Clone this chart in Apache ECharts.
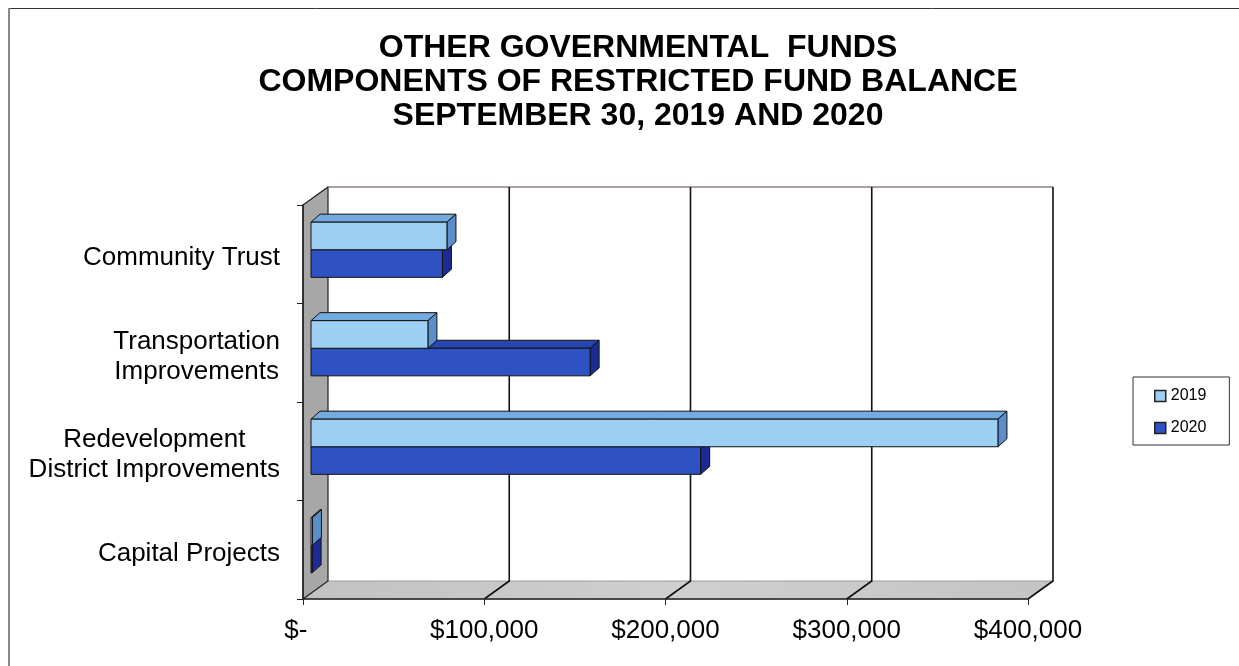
<!DOCTYPE html>
<html>
<head>
<meta charset="utf-8">
<script src="https://cdn.jsdelivr.net/npm/echarts@6/dist/echarts.min.js"></script>
<style>
  html, body { margin: 0; padding: 0; background: #fff; }
  #chart { width: 1239px; height: 666px; }
</style>
</head>
<body>
<div id="chart"></div>
<script>
// Chart text and values
const titleLines = ['OTHER GOVERNMENTAL  FUNDS', 'COMPONENTS OF RESTRICTED FUND BALANCE', 'SEPTEMBER 30, 2019 AND 2020'];
const categories = ['Community Trust', 'Transportation\nImprovements', 'Redevelopment\nDistrict Improvements', 'Capital Projects'];
const seriesNames = ['2019', '2020'];
const values2019 = [75000, 64500, 379000, 800];
const values2020 = [72500, 154000, 215000, 600];
const valueTicks = [0, 100000, 200000, 300000, 400000];

const FONT = '"Liberation Sans", Arial, sans-serif';

// 3-D look: depth of walls/floor, and placement of the bar blocks inside that depth
const DEPTH = [25, -18];
const BAR_FACE = [8, -4.5];
const BAR_DEPTH = [9, -8];
const BAR_FRACTION = 0.28;

const palette = {
  '2019': { front: '#9dcff3', top: '#74abdf', side: '#5b8fcb' },
  '2020': { front: '#2f52c2', top: '#2846b0', side: '#1c2b94' }
};

function money(v) {
  return v === 0 ? '$-  ' : '$' + v.toLocaleString('en-US');
}

// Walls, floor and gridlines of the 3-D box, positioned from the axes
function renderFrame(params, api) {
  const cs = params.coordSys;
  const xl = cs.x, xr = cs.x + cs.width, yt = cs.y, yb = cs.y + cs.height;
  const dx = DEPTH[0], dy = DEPTH[1];
  const children = [
    { type: 'rect', shape: { x: xl + dx, y: yt + dy, width: cs.width, height: cs.height },
      style: { fill: '#ffffff' } },
    { type: 'polygon', shape: { points: [[xl, yb], [xr, yb], [xr + dx, yb + dy], [xl + dx, yb + dy]] },
      style: {
        fill: new echarts.graphic.LinearGradient(0, 0, 1, 0, [
          { offset: 0, color: '#c2c2c2' }, { offset: 0.5, color: '#cfcfcf' }, { offset: 1, color: '#c4c4c4' }
        ]),
        stroke: '#9c9c9c', lineWidth: 1
      } },
    { type: 'polygon', shape: { points: [[xl, yt], [xl + dx, yt + dy], [xl + dx, yb + dy], [xl, yb]] },
      style: { fill: '#a7a7a7', stroke: '#222', lineWidth: 1.2 } },
    { type: 'polyline', shape: { points: [[xl + dx, yt + dy], [xr + dx, yt + dy]] },
      style: { stroke: '#8d8282', lineWidth: 1.5, fill: null } }
  ];
  valueTicks.forEach(function (v) {
    if (v === 0) return;
    const gx = api.coord([v, 0])[0];
    children.push({ type: 'polyline',
      shape: { points: [[gx, yb], [gx + dx, yb + dy], [gx + dx, yt + dy]] },
      style: { stroke: '#111', lineWidth: 1.6, fill: null } });
  });
  return { type: 'group', children: children };
}

// One 3-D bar block (front, top and side faces)
function barRenderer(slot, colors) {
  return function (params, api) {
    const v = api.value(0), cat = api.value(1);
    const base = api.coord([0, cat]);
    const end = api.coord([v, cat]);
    const band = api.size([0, 1])[1];
    const h = band * BAR_FRACTION;
    const x0 = base[0] + BAR_FACE[0], x1 = end[0] + BAR_FACE[0];
    const yT = base[1] + BAR_FACE[1] - h + slot * h, yB = yT + h;
    const dx = BAR_DEPTH[0], dy = BAR_DEPTH[1];
    const edge = { stroke: '#111', lineWidth: 1, lineJoin: 'round' };
    return {
      type: 'group',
      children: [
        { type: 'polygon', shape: { points: [[x0, yT], [x1, yT], [x1 + dx, yT + dy], [x0 + dx, yT + dy]] },
          style: Object.assign({ fill: colors.top }, edge) },
        { type: 'polygon', shape: { points: [[x1, yT], [x1 + dx, yT + dy], [x1 + dx, yB + dy], [x1, yB]] },
          style: Object.assign({ fill: colors.side }, edge) },
        { type: 'rect', shape: { x: x0, y: yT, width: Math.max(x1 - x0, 0.5), height: h },
          style: Object.assign({ fill: colors.front }, edge) }
      ]
    };
  };
}

function toData(values) {
  return values.map(function (v, i) { return [v, i]; });
}

const chart = echarts.init(document.getElementById('chart'), null, { renderer: 'canvas' });

chart.setOption({
  animation: false,
  backgroundColor: '#ffffff',
  title: {
    text: titleLines.join('\n'),
    left: 638,
    top: 31,
    padding: 0,
    textAlign: 'center',
    textStyle: { fontFamily: FONT, fontSize: 32, fontWeight: 'bold', lineHeight: 34, color: '#000' }
  },
  legend: {
    data: seriesNames,
    orient: 'vertical',
    left: 1133,
    top: 377,
    padding: [11, 23, 9, 21],
    itemGap: 16,
    itemWidth: 11,
    itemHeight: 11,
    icon: 'rect',
    selectedMode: false,
    borderColor: '#333',
    borderWidth: 1,
    itemStyle: { borderColor: '#222', borderWidth: 1.5 },
    textStyle: { fontFamily: FONT, fontSize: 16, color: '#000' }
  },
  grid: { left: 303, top: 205, width: 725, height: 394 },
  xAxis: {
    type: 'value',
    min: 0,
    max: 400000,
    interval: 100000,
    z: 5,
    axisLine: { show: true, lineStyle: { color: '#222', width: 1.5 } },
    axisTick: { show: true, length: 6, lineStyle: { color: '#222', width: 1 } },
    splitLine: { show: false },
    axisLabel: { margin: 19, fontFamily: FONT, fontSize: 26, color: '#000', formatter: money }
  },
  yAxis: {
    type: 'category',
    data: categories,
    inverse: true,
    z: 5,
    axisLine: { show: true, lineStyle: { color: '#222', width: 1.5 } },
    axisTick: { show: true, length: 6, lineStyle: { color: '#222', width: 1 } },
    splitLine: { show: false },
    axisLabel: {
      margin: 23,
      padding: [8, 0, 0, 0],
      formatter: function (v) {
        return v.split('\n').map(function (s) { return '{c|' + s + '}'; }).join('\n');
      },
      rich: { c: { align: 'center', fontFamily: FONT, fontSize: 26, lineHeight: 30, color: '#000' } }
    }
  },
  series: [
    {
      type: 'custom',
      name: 'frame',
      z: 1,
      silent: true,
      renderItem: renderFrame,
      encode: { x: 0, y: 1 },
      data: [[0, 0]]
    },
    {
      type: 'custom',
      name: '2019',
      z: 4,
      itemStyle: { color: palette['2019'].front },
      renderItem: barRenderer(0, palette['2019']),
      encode: { x: 0, y: 1 },
      data: toData(values2019)
    },
    {
      type: 'custom',
      name: '2020',
      z: 3,
      itemStyle: { color: palette['2020'].front },
      renderItem: barRenderer(1, palette['2020']),
      encode: { x: 0, y: 1 },
      data: toData(values2020)
    }
  ],
  graphic: [
    { type: 'line', silent: true, shape: { x1: 9, y1: 8.5, x2: 1239, y2: 8.5 },
      style: { stroke: '#333', lineWidth: 1 } },
    { type: 'line', silent: true, shape: { x1: 9, y1: 8, x2: 9, y2: 666 },
      style: { stroke: '#888', lineWidth: 2 } }
  ]
});
</script>
</body>
</html>
